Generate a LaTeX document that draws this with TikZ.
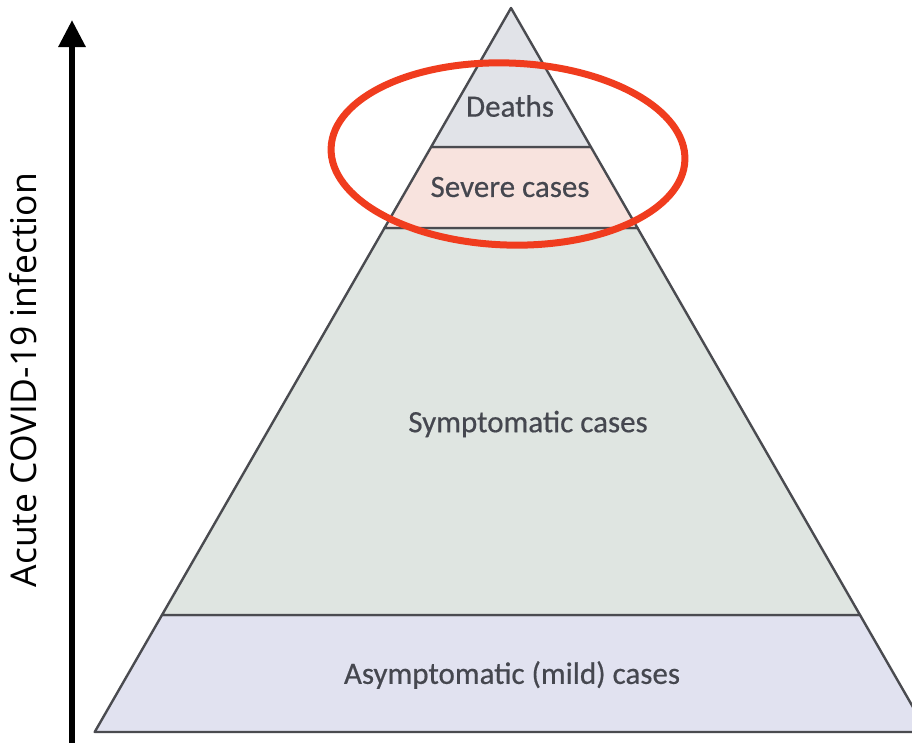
\documentclass[tikz,border=0pt]{standalone}
\usepackage{fontspec}
\usetikzlibrary{arrows.meta}
\newfontfamily\layerfont[FakeBold=0.5]{Carlito}
\newfontfamily\axisfont{Open Sans}
\definecolor{edge}{HTML}{4A4B50}
\definecolor{txt}{HTML}{45474F}
\definecolor{deathfill}{HTML}{E1E3E8}
\definecolor{severefill}{HTML}{F8E3DE}
\definecolor{sympfill}{HTML}{DFE5E1}
\definecolor{asympfill}{HTML}{E1E2F0}
\definecolor{ringred}{HTML}{F03C1E}
\tikzset{
  layer/.style={draw=edge, line width=2.4pt, line join=round},
  layertext/.style={text=txt, font=\layerfont\fontsize{31}{33}\selectfont, inner sep=0pt},
  ring/.style={draw=ringred, line width=7pt},
  axisarrow/.style={line width=6pt, -{Triangle[width=26pt,length=27pt]}},
}
\begin{document}
\begin{tikzpicture}[x=1pt,y=-1pt]
  \clip (0,0) rectangle (912,742);
  \fill[white] (0,0) rectangle (912,742);

  % pyramid layers, bottom to top
  \path[layer, fill=asympfill] (162,615) -- (860,615) -- (927.3,732) -- (94.7,732) -- cycle;
  \path[layer, fill=sympfill] (384.5,228) -- (637.5,228) -- (860,615) -- (162,615) -- cycle;
  \path[layer, fill=severefill] (431.1,147) -- (590.9,147) -- (637.5,228) -- (384.5,228) -- cycle;
  \path[layer, fill=deathfill] (511,8) -- (590.9,147) -- (431.1,147) -- cycle;

  % layer labels
  \node[layertext] (deaths) at (510,106) {Deaths};
  \node[layertext] (severe) at (510,187) {Severe cases};
  \node[layertext] (symp) at (528,424) {Symptomatic cases};
  \node[layertext] (asymp) at (512,675) {Asymptomatic (mild) cases};

  % highlight around the two top layers
  \draw[ring, rotate around={-2:(508,154)}] (508,154) ellipse [x radius=177, y radius=91];

  % vertical axis
  \coordinate (axisfoot) at (72,745);
  \coordinate (axistip) at (72,20);
  \draw[axisarrow] (axisfoot) -- (axistip);
  \node[rotate=90, text=black, font=\axisfont\fontsize{35.5}{37}\selectfont, inner sep=0pt] (axislabel) at (23,380) {Acute COVID-19 infection};
\end{tikzpicture}
\end{document}
